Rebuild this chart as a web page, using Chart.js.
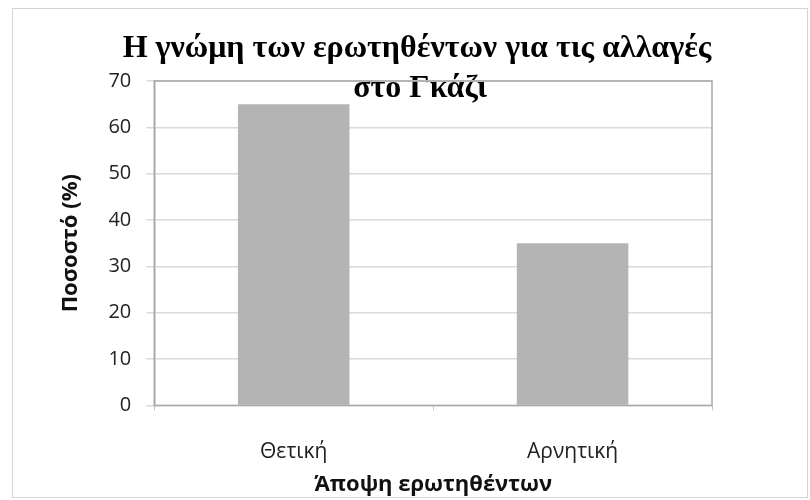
<!DOCTYPE html>
<html>
<head>
<meta charset="utf-8">
<script src="https://cdn.jsdelivr.net/npm/chart.js@4"></script>
<style>
  html, body { margin: 0; padding: 0; background: #fff; }
  #wrap { width: 810px; height: 500px; }
</style>
</head>
<body>
<div id="wrap"><canvas id="chart" width="810" height="500"></canvas></div>
<script>
// data
const categories = ["Θετική", "Αρνητική"];
const percentValues = [65, 35];
const chartTitle = ["Η γνώμη των ερωτηθέντων για τις αλλαγές", "στο Γκάζι"];
const yAxisTitle = "Ποσοστό (%)";
const xAxisTitle = "Άποψη ερωτηθέντων";

// outer frame + title (the title overlaps the plot area, as in the original)
const framePlugin = {
  id: "frames",
  beforeDraw(chart) {
    const ctx = chart.ctx;
    ctx.save();
    ctx.strokeStyle = "#d4d4d4";
    ctx.lineWidth = 1;
    ctx.strokeRect(12.5, 8.5, 795, 489);

    ctx.fillStyle = "#000";
    ctx.font = "bold 32px 'Liberation Serif'";
    ctx.textAlign = "center";
    ctx.textBaseline = "alphabetic";
    ctx.fillText(chartTitle[0], 417, 57);
    ctx.fillText(chartTitle[1], 420, 97);
    ctx.restore();
  },
  afterDatasetsDraw(chart) {
    const a = chart.chartArea;
    const ctx = chart.ctx;
    ctx.save();
    ctx.strokeStyle = "#a8a8a8";
    ctx.lineWidth = 1.5;
    ctx.strokeRect(a.left, a.top, a.right - a.left, a.bottom - a.top);
    ctx.restore();
  }
};

new Chart(document.getElementById("chart"), {
  type: "bar",
  data: {
    labels: categories,
    datasets: [{
      data: percentValues,
      backgroundColor: "#b4b4b4",
      borderWidth: 0,
      barPercentage: 0.4,
      categoryPercentage: 1.0
    }]
  },
  options: {
    responsive: false,
    animation: false,
    layout: {
      padding: { left: 58, right: 98, top: 81, bottom: 2 }
    },
    plugins: {
      legend: { display: false },
      tooltip: { enabled: false }
    },
    scales: {
      x: {
        offset: true,
        grid: {
          offset: true,
          drawOnChartArea: false,
          drawTicks: true,
          tickLength: 5,
          color: "#c8c8c8"
        },
        border: { display: true, color: "#a8a8a8" },
        ticks: {
          color: "#222",
          font: { family: "Open Sans", size: 21 },
          padding: 29
        },
        title: {
          display: true,
          text: xAxisTitle,
          color: "#111",
          font: { family: "Open Sans", size: 22, weight: "bold" },
          padding: { top: -22, bottom: 0 }
        }
      },
      y: {
        min: 0,
        max: 70,
        ticks: {
          stepSize: 10,
          color: "#222",
          font: { family: "Open Sans", size: 20 },
          padding: 15
        },
        grid: {
          color: "#dadada",
          lineWidth: 1.5,
          drawTicks: true,
          tickLength: 8
        },
        border: { display: true, color: "#a8a8a8", width: 1.5 },
        title: {
          display: true,
          text: yAxisTitle,
          color: "#111",
          font: { family: "Open Sans", size: 22, weight: "bold" },
          padding: { top: 0, bottom: 9 }
        }
      }
    }
  },
  plugins: [framePlugin]
});
</script>
</body>
</html>
